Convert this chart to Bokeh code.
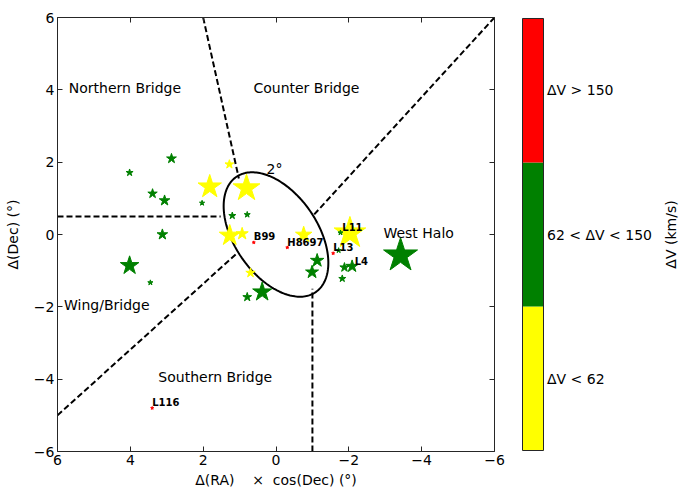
import numpy as np
from bokeh.plotting import figure
from bokeh.layouts import row
from bokeh.models import Range1d, LinearAxis, FixedTicker, ColumnDataSource
from bokeh.core.properties import value
from bokeh.embed import file_html
from bokeh.resources import INLINE
from bokeh.transform import factor_cmap

# ---------------- data ----------------
# cluster offsets (deg), velocity class and relative marker size
ra = [1.28, 1.82, 0.81, 1.27, 0.93, -0.76, 0.70, -2.03,
      4.02, 2.87, 3.39, 3.06, 2.03, 3.12, 1.20, 0.79, 4.02, 3.45, 0.79, 0.38,
      -1.13, -0.99, -1.88, -2.09, -1.82, -1.77, -1.72, -3.42,
      0.61, -0.31, -1.57, 3.40]
dec = [1.94, 1.32, 1.28, -0.03, 0.02, -0.01, -1.06, 0.04,
       1.71, 2.10, 1.13, 0.94, 0.87, 0.00, 0.52, 0.55, -0.86, -1.33, -1.73, -1.59,
       -0.72, -1.04, -0.91, -0.88, -1.22, 0.05, -0.44, -0.58,
       -0.22, -0.36, -0.52, -4.80]
dv_class = (["low"] * 8) + (["mid"] * 20) + (["high"] * 4)
rel_size = [4.4, 11.7, 13.4, 10.5, 6.1, 8.2, 4.7, 15.8,
            3.5, 4.9, 4.7, 5.3, 2.6, 5.3, 3.5, 3.0, 9.3, 2.6, 4.4, 9.5,
            6.7, 6.5, 4.6, 6.1, 3.5, 2.5, 2.6, 17.0,
            1.5, 1.5, 1.5, 1.5]

class_names = ["low", "mid", "high"]
class_colors = ["#ffff00", "#008000", "#ff0000"]
cbar_labels = ["\u0394V < 62", "62 < \u0394V < 150", "\u0394V > 150"]

# point labels
label_names = ["B99", "H8697", "L13", "L116", "L11", "L4"]
label_x = [0.61, -0.31, -1.57, 3.40, -1.82, -2.16]
label_y = [-0.22, -0.36, -0.52, -4.80, 0.05, -0.90]

# region labels
region_names = ["Northern Bridge", "Counter Bridge", "West Halo",
                "Wing/Bridge", "Southern Bridge", "2\u00b0"]
region_x = [5.69, 0.62, -2.95, 5.82, 3.23, 0.26]
region_y = [4.05, 4.05, 0.05, -1.95, -3.95, 1.82]

# region boundaries (dashed)
bound_x0 = [2.0, 6.0, 6.0, -6.0, -1.0]
bound_y0 = [6.0, 0.5, -5.0, 6.0, -6.0]
bound_x1 = [1.02, 1.52, 1.05, -1.0, -1.0]
bound_y1 = [1.55, 0.5, -0.5, 0.5, -1.5]

# 2 degree ellipse
ell_cx, ell_cy = 0.0, 0.0
ell_a, ell_b = 1.93, 1.14
ell_angle = 55.8

tick_vals = [-6, -4, -2, 0, 2, 4, 6]
tick_labels = ["\u22126", "\u22124", "\u22122", "0", "2", "4", "6"]

FONT = value("DejaVu Sans")
AXC = "#262626"
NB = "\u00a0"

# ---------------- main plot ----------------
p = figure(width=521, height=490, x_range=Range1d(6, -6), y_range=Range1d(-6, 6),
           output_backend="svg", toolbar_location=None,
           min_border_left=57, min_border_right=27, min_border_top=17, min_border_bottom=39)
p.grid.visible = False
p.outline_line_color = None

top_ax = LinearAxis()
right_ax = LinearAxis()
p.add_layout(top_ax, "above")
p.add_layout(right_ax, "right")
bottom_ax = p.below[0]
left_ax = p.left[0]

overrides = {v: l for v, l in zip(tick_vals, tick_labels)}
for ax in (bottom_ax, left_ax, top_ax, right_ax):
    ax.ticker = FixedTicker(ticks=tick_vals)
    ax.major_label_overrides = overrides
    ax.major_tick_in = 5
    ax.major_tick_out = 0
    ax.minor_tick_line_color = None
    ax.axis_line_color = AXC
    ax.major_tick_line_color = AXC
    ax.major_label_text_font = "DejaVu Sans"
    ax.major_label_text_font_size = "14px"
    ax.major_label_text_color = "black"
    ax.major_label_standoff = 3
for ax in (top_ax, right_ax):
    ax.major_label_text_font_size = "0px"
    ax.major_label_text_color = None
    ax.major_label_standoff = 0

bottom_ax.axis_label = "\u0394(RA)" + NB * 4 + "\u00d7" + NB * 2 + "cos(Dec) (\u00b0)"
left_ax.axis_label = "\u0394(Dec) (\u00b0)"
for ax in (bottom_ax, left_ax):
    ax.axis_label_text_font = "DejaVu Sans"
    ax.axis_label_text_font_size = "14px"
    ax.axis_label_text_font_style = "normal"
    ax.axis_label_text_color = "black"
bottom_ax.axis_label_standoff = 4
left_ax.axis_label_standoff = 10

# boundaries
p.segment(x0=bound_x0, y0=bound_y0, x1=bound_x1, y1=bound_y1,
          line_color="black", line_width=2, line_dash="6 3")

# ellipse
t = np.linspace(0, 2 * np.pi, 200)
th = np.deg2rad(ell_angle)
ex = ell_cx + ell_a * np.cos(t) * np.cos(th) - ell_b * np.sin(t) * np.sin(th)
ey = ell_cy + ell_a * np.cos(t) * np.sin(th) + ell_b * np.sin(t) * np.cos(th)
p.line(ex, ey, line_color="black", line_width=2)

# stars
src = ColumnDataSource(dict(x=ra, y=dec, c=dv_class, s=[2.1 * r for r in rel_size]))
p.scatter("x", "y", source=src, marker="star", size="s",
          fill_color=factor_cmap("c", class_colors, class_names),
          line_color=factor_cmap("c", class_colors, class_names), line_width=1)

# labels
p.text(x=label_x, y=label_y, text=label_names, text_font=FONT, text_font_size="10px",
       text_font_style="bold", text_color="black", text_align="left", text_baseline="bottom")
p.text(x=region_x, y=region_y, text=region_names, text_font=FONT, text_font_size="14px",
       text_color="black", text_align="left", text_baseline="middle")

# ---------------- colour bar ----------------
u = 3.0 / 435.0
cb = figure(width=159, height=490, x_range=Range1d(0, 159), y_range=Range1d(-u, 3 + u),
            output_backend="svg", toolbar_location=None,
            x_axis_location=None, y_axis_location=None,
            min_border_left=0, min_border_right=0, min_border_top=15, min_border_bottom=38)
cb.grid.visible = False
cb.outline_line_color = None
cb.quad(left=1, right=22, bottom=[0, 1, 2], top=[1, 2, 3], fill_color=class_colors,
        line_color=None)
cb.quad(left=1, right=22, bottom=0, top=3, fill_color=None, line_color=AXC, line_width=1)
cb.text(x=25.5, y=[0.5, 1.5, 2.5], text=cbar_labels, text_font=FONT, text_font_size="14px",
        text_color="black", text_align="left", text_baseline="middle")
cb.text(x=[149], y=[1.5], text=["\u0394V (km/s)"], angle=np.pi / 2, text_font=FONT,
        text_font_size="14px", text_color="black", text_align="center", text_baseline="middle")

layout = row(p, cb)
open("out.html", "w").write(file_html(layout, INLINE))
